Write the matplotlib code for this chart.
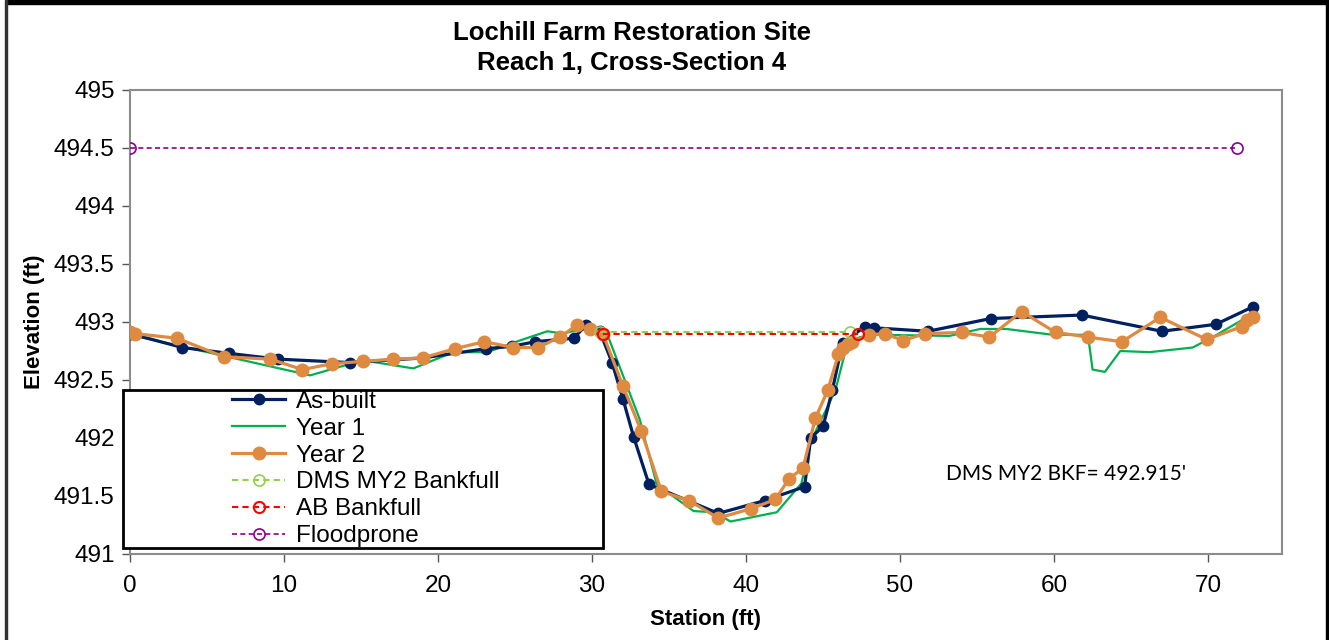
import matplotlib

matplotlib.use("Agg")
import matplotlib.pyplot as plt
from matplotlib.lines import Line2D
from matplotlib.patches import Rectangle

plt.rcParams["font.family"] = ["Liberation Sans", "DejaVu Sans"]

# --- survey data (station ft, elevation ft) ---
asbuilt_x = [0.0, 3.4, 6.4, 9.6, 14.3, 19.0, 23.1, 24.8, 26.3, 28.8, 29.6, 30.5,
             31.3, 32.0, 32.7, 33.7, 38.2, 41.2, 43.8, 44.2, 45.0, 45.6, 46.2,
             46.3, 47.7, 48.3, 51.8, 55.9, 61.8, 67.0, 70.5, 72.9]
asbuilt_y = [492.90, 492.78, 492.73, 492.68, 492.65, 492.69, 492.77, 492.79,
             492.83, 492.86, 492.97, 492.92, 492.65, 492.34, 492.01, 491.60,
             491.35, 491.46, 491.58, 492.00, 492.10, 492.41, 492.78, 492.82,
             492.96, 492.95, 492.92, 493.03, 493.06, 492.92, 492.98, 493.13]

year1_x = [0.0, 11.7, 15.1, 18.4, 21.0, 23.2, 25.3, 27.1, 28.1, 29.7, 31.0,
           33.1, 34.2, 36.6, 37.9, 39.0, 42.0, 43.6, 44.2, 45.8, 46.3, 46.6,
           47.4, 48.5, 53.2, 55.2, 56.9, 59.9, 62.2, 62.5, 63.3, 64.3, 66.2,
           69.0, 70.3, 72.5]
year1_y = [492.89, 492.54, 492.67, 492.60, 492.74, 492.74, 492.84, 492.92,
           492.90, 492.95, 492.89, 492.16, 491.60, 491.37, 491.36, 491.28,
           491.36, 491.61, 491.97, 492.41, 492.67, 492.82, 492.87, 492.89,
           492.88, 492.94, 492.94, 492.89, 492.89, 492.59, 492.57, 492.75,
           492.74, 492.78, 492.87, 493.04]

year2_x = [0.0, 0.3, 3.05, 6.1, 9.1, 11.2, 13.1, 15.1, 17.1, 19.0, 21.1, 23.0,
           24.9, 26.5, 27.9, 29.0, 29.9, 30.7, 32.0, 33.2, 34.5, 36.3, 38.2,
           40.3, 41.9, 42.8, 43.7, 44.5, 45.3, 46.0, 46.3, 46.6, 46.9, 48.0,
           49.0, 50.2, 51.6, 54.0, 55.8, 57.9, 60.1, 62.2, 64.4, 66.9, 69.9,
           72.2, 72.5, 72.9]
year2_y = [492.91, 492.90, 492.86, 492.70, 492.68, 492.59, 492.64, 492.66,
           492.68, 492.69, 492.77, 492.83, 492.78, 492.78, 492.87, 492.97,
           492.94, 492.90, 492.45, 492.06, 491.54, 491.46, 491.31, 491.39,
           491.47, 491.65, 491.74, 492.17, 492.41, 492.72, 492.78, 492.81,
           492.83, 492.89, 492.90, 492.84, 492.90, 492.91, 492.87, 493.09,
           492.91, 492.87, 492.83, 493.04, 492.85, 492.96, 493.02, 493.04]

dms_bkf_x = [30.5, 46.75]
dms_bkf_y = [492.915, 492.915]
ab_bkf_x = [30.7, 47.3]
ab_bkf_y = [492.90, 492.90]
flood_x = [0.0, 71.9]
flood_y = [494.5, 494.5]

x_ticks = [0, 10, 20, 30, 40, 50, 60, 70]
y_ticks = [491, 491.5, 492, 492.5, 493, 493.5, 494, 494.5, 495]
y_tick_labels = ["491", "491.5", "492", "492.5", "493", "493.5", "494", "494.5", "495"]

NAVY = "#002060"
GREEN = "#00B050"
ORANGE = "#DE8A41"
LIGHT_GREEN = "#92D050"
RED = "#FF0000"
PURPLE = "#8B008B"

W, H = 1329, 640
fig = plt.figure(figsize=(W / 100, H / 100), dpi=100)
ax = fig.add_axes([130 / W, 1 - 554 / H, (1282 - 130) / W, (554 - 90) / H])

ax.plot(year1_x, year1_y, color=GREEN, lw=1.6, zorder=3)
ax.plot(asbuilt_x, asbuilt_y, color=NAVY, lw=2.3, marker="o", ms=7.5, zorder=4)
ax.plot(year2_x, year2_y, color=ORANGE, lw=2.3, marker="o", ms=9, zorder=5)
ax.plot(dms_bkf_x, dms_bkf_y, color=LIGHT_GREEN, lw=1.5, ls=(0, (3, 2)),
        marker="o", ms=8, mfc="none", mew=1.2, zorder=6)
ax.plot(ab_bkf_x, ab_bkf_y, color=RED, lw=1.5, ls=(0, (3, 2)),
        marker="o", ms=8, mfc="none", mew=1.5, zorder=6)
ax.plot(flood_x, flood_y, color=PURPLE, lw=1.2, ls=(0, (3, 2)),
        marker="o", ms=8, mfc="none", mew=1.2, zorder=6)

ax.set_xlim(0, 74.8)
ax.set_ylim(491, 495)
ax.set_xticks(x_ticks)
ax.set_yticks(y_ticks)
ax.set_yticklabels(y_tick_labels)
ax.tick_params(axis="both", direction="out", length=6, width=1, color="#555555",
               labelsize=17.5)
ax.tick_params(axis="x", pad=9)
ax.tick_params(axis="y", pad=5)
for sp in ax.spines.values():
    sp.set_color("#8C8C8C")
    sp.set_linewidth(1.5)

ax.set_xlabel("Station (ft)", fontsize=16, fontweight="bold", labelpad=9)
ax.set_ylabel("Elevation (ft)", fontsize=16, fontweight="bold")
ax.yaxis.set_label_coords(-0.0736, 0.5)

fig.text(632 / W, 1 - 48 / H, "Lochill Farm Restoration Site\nReach 1, Cross-Section 4",
         ha="center", va="center", fontsize=18.5, fontweight="bold", linespacing=1.35)

# annotation placed in figure pixel positions
fig.text(1066 / W, 1 - 474 / H, "DMS MY2 BKF= 492.915'", ha="center", va="center",
         fontsize=15, family=["Lato", "DejaVu Sans"])

# legend
handles = [
    Line2D([], [], color=NAVY, lw=2.3, marker="o", ms=7.5),
    Line2D([], [], color=GREEN, lw=1.6),
    Line2D([], [], color=ORANGE, lw=2.3, marker="o", ms=9),
    Line2D([], [], color=LIGHT_GREEN, lw=1.5, ls=(0, (3, 2)), marker="o", ms=8,
           mfc="none", mew=1.2),
    Line2D([], [], color=RED, lw=1.5, ls=(0, (3, 2)), marker="o", ms=8,
           mfc="none", mew=1.5),
    Line2D([], [], color=PURPLE, lw=1.2, ls=(0, (3, 2)), marker="o", ms=8,
           mfc="none", mew=1.2),
]
labels = ["As-built", "Year 1", "Year 2", "DMS MY2 Bankfull", "AB Bankfull", "Floodprone"]
leg = fig.legend(handles, labels, loc="center left",
                 bbox_to_anchor=(232 / W, 1 - 469 / H), frameon=False,
                 fontsize=17.5, handlelength=2.2, handletextpad=0.45,
                 labelspacing=0.2, borderpad=0, borderaxespad=0)
leg.set_zorder(10)
fig.patches.append(Rectangle((123 / W, 1 - 548 / H), (603 - 123) / W, (548 - 390) / H,
                             transform=fig.transFigure, fill=True, facecolor="white",
                             edgecolor="black", lw=2, zorder=9))

# outer frame of the exported chart
fig.patches.append(Rectangle((6 / W, 1 - 4 / H), 1 - 6 / W, 4 / H,
                             transform=fig.transFigure, color="black", zorder=20))
fig.patches.append(Rectangle((5 / W, 0), 2 / W, 1,
                             transform=fig.transFigure, color="#333333", zorder=20))
fig.patches.append(Rectangle((1326 / W, 0), 3 / W, 1,
                             transform=fig.transFigure, color="black", zorder=20))

fig.savefig("out.png", dpi=100)
